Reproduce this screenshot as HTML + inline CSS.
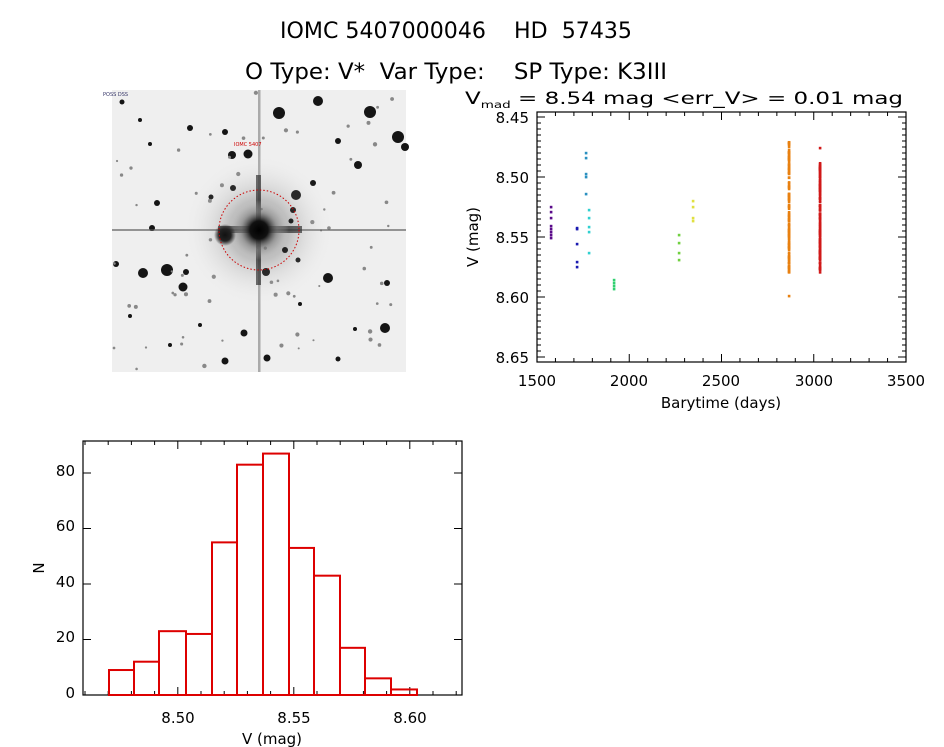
<!DOCTYPE html>
<html><head><meta charset="utf-8"><style>
html,body{margin:0;padding:0;background:#fff;}
svg{display:block;}
text{font-family:"DejaVu Sans","Liberation Sans",sans-serif;fill:#000;white-space:pre;}
</style></head><body>
<svg id="s" width="944" height="747" viewBox="0 0 944 747" xmlns="http://www.w3.org/2000/svg" xml:space="preserve">
<text x="456" y="38" font-size="22" text-anchor="middle" textLength="352" lengthAdjust="spacingAndGlyphs">IOMC 5407000046    HD  57435</text>
<text x="456" y="79" font-size="22" text-anchor="middle" textLength="422" lengthAdjust="spacingAndGlyphs">O Type: V*  Var Type:    SP Type: K3III</text>
<defs>
<radialGradient id="st"><stop offset="0" stop-color="#111"/><stop offset="0.55" stop-color="#222"/><stop offset="1" stop-color="#222" stop-opacity="0"/></radialGradient>
<radialGradient id="halo"><stop offset="0" stop-color="#000"/><stop offset="0.3" stop-color="#111"/><stop offset="0.6" stop-color="#888" stop-opacity="0.6"/><stop offset="1" stop-color="#eee" stop-opacity="0"/></radialGradient>
</defs>
<rect x="112" y="90" width="294" height="282" fill="#efefef"/>
<g id="stars"></g>
<rect x="112" y="229" width="294" height="2" fill="#555" opacity="0.6"/>
<rect x="258" y="90" width="2.5" height="282" fill="#666" opacity="0.5"/>
<rect x="256" y="175" width="5" height="110" fill="#222" opacity="0.7"/>
<rect x="218" y="226" width="84" height="7" fill="#222" opacity="0.7"/>
<circle cx="259" cy="230" r="75" fill="url(#halo)" opacity="0.3"/>
<circle cx="259" cy="230" r="30" fill="url(#halo)"/>
<circle cx="225" cy="235" r="11" fill="url(#st)"/>
<circle cx="259" cy="230" r="40" fill="none" stroke="#c00" stroke-width="1" stroke-dasharray="1.5,2"/>
<text x="234" y="146" font-size="5" style="fill:#c00">IOMC 5407</text>
<text x="103" y="96" font-size="5" style="fill:#336">POSS DSS</text>

<text x="684" y="104" font-size="17" text-anchor="middle" textLength="438" lengthAdjust="spacingAndGlyphs">V<tspan font-size="10" dy="4">mad</tspan><tspan dy="-4"> = 8.54 mag &lt;err_V&gt; = 0.01 mag</tspan></text>
<rect x="537" y="112" width="369" height="250" fill="none" stroke="#000" stroke-width="1.2"/>
<g id="lc" stroke="#000" stroke-width="1"></g>
<g font-size="15" text-anchor="end">
<text x="529" y="123">8.45</text><text x="529" y="183">8.50</text><text x="529" y="243">8.55</text><text x="529" y="303">8.60</text><text x="529" y="363">8.65</text>
</g>
<g font-size="15" text-anchor="middle">
<text x="537" y="386">1500</text><text x="629" y="386">2000</text><text x="721" y="386">2500</text><text x="814" y="386">3000</text><text x="906" y="386">3500</text>
<text x="721" y="408">Barytime (days)</text>
</g>
<text transform="translate(478,237) rotate(-90)" font-size="15" text-anchor="middle">V (mag)</text>
<g id="pts"></g>

<rect x="83" y="441" width="379" height="254" fill="none" stroke="#000" stroke-width="1.2"/>
<g id="hc" stroke="#000" stroke-width="1"></g>
<g font-size="15" text-anchor="end">
<text x="75" y="698">0</text><text x="75" y="642">20</text><text x="75" y="587">40</text><text x="75" y="531">60</text><text x="75" y="476">80</text>
</g>
<g font-size="15" text-anchor="middle">
<text x="178" y="723">8.50</text><text x="294" y="723">8.55</text><text x="410" y="723">8.60</text>
<text x="272" y="744">V (mag)</text>
</g>
<text transform="translate(44,568) rotate(-90)" font-size="15" text-anchor="middle">N</text>
<g id="bars" fill="none" stroke="#d00" stroke-width="2"></g>
</svg>
<script>
var NS="http://www.w3.org/2000/svg";
function el(p,t,a){var e=document.createElementNS(NS,t);for(var k in a)e.setAttribute(k,a[k]);document.getElementById(p).appendChild(e);return e;}
var seed=7;function rnd(){seed=(seed*16807)%2147483647;return seed/2147483647;}
var st=[[279,113,6],[318,101,5],[370,112,6],[398,137,6],[405,147,4],[358,165,4],[296,195,5],[232,155,4],[248,154,4.5],[143,273,5],[167,270,6],[183,287,4.5],[328,278,5],[385,328,5],[244,333,3.5],[267,358,3.5],[225,361,3.5],[152,228,3],[190,128,3],[225,132,3],[338,141,3],[298,260,2.5],[285,250,3],[233,188,3],[266,272,4],[387,283,3],[116,264,3],[186,272,3],[157,203,3],[313,183,3],[293,210,3],[291,221,2.5],[211,197,2.5],[122,102,2.5],[140,120,2],[150,144,2],[338,359,2.5],[355,329,2],[300,304,2],[130,316,2],[170,345,2],[200,325,2]];
st.forEach(function(s){el("stars","circle",{cx:s[0],cy:s[1],r:s[2],fill:"#151515"});});
for(var i=0;i<70;i++){el("stars","circle",{cx:114+rnd()*290,cy:92+rnd()*278,r:1+rnd()*1.2,fill:"#888"});}
for(var v=0;v<=40;v++){var y=117+v*6;var L=(v%10==0)?8:4;el("lc","line",{x1:537,y1:y,x2:537+L,y2:y});el("lc","line",{x1:906,y1:y,x2:906-L,y2:y});}
for(var d=1500;d<=3500;d+=100){var x=537+(d-1500)*0.1845;var L=(d%500==0)?8:4;el("lc","line",{x1:x,y1:362,x2:x,y2:362-L});el("lc","line",{x1:x,y1:112,x2:x,y2:112+L});}
function P(x,ys,c){ys.forEach(function(y){el("pts","rect",{x:x-1.2,y:y-1.2,width:2.6,height:2.6,fill:c});});}
P(551,[207,212,218,226,229,232,235,238],"#5a0a8a");
P(577,[228,229,244,262,267],"#1a1ab0");
P(586,[153,158,174,177,194],"#2a90c0");
P(589,[210,218,227,232,253],"#30d0d0");
P(614,[280,283,286,289],"#30d070");
P(679,[235,243,253,260],"#70d040");
P(693,[201,207,218,221],"#e0e040");
var o=[];for(var i=0;i<130;i++)o.push(142+rnd()*131);o.push(296);P(789,o,"#e88010");
var r=[148];for(var i=0;i<150;i++)r.push(163+rnd()*110);P(820,r,"#d01818");
for(var n=0;n<=80;n+=20){var y=695-n*2.775;el("hc","line",{x1:83,y1:y,x2:91,y2:y});el("hc","line",{x1:462,y1:y,x2:454,y2:y});}
for(var m=0;m<=16;m++){var x=85+m*23.2;var L=((m-4)%5==0)?8:4;if(x<=462){el("hc","line",{x1:x,y1:695,x2:x,y2:695-L});el("hc","line",{x1:x,y1:441,x2:x,y2:441+L});}}
var ed=[109,134,159,186,212,237,263,289,314,340,365,391,417],ct=[9,12,23,22,55,83,87,53,43,17,6,2];
for(var i=0;i<12;i++){var h=ct[i]*2.775;el("bars","rect",{x:ed[i],y:695-h,width:ed[i+1]-ed[i],height:h});}
</script>
</body></html>
